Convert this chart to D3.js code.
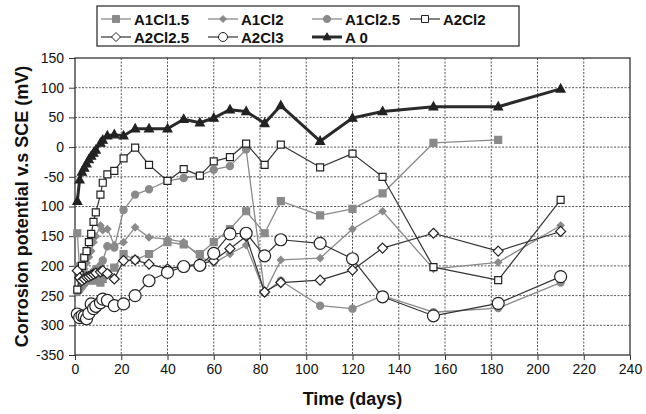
<!DOCTYPE html>
<html>
<head>
<meta charset="utf-8">
<script src="https://cdn.jsdelivr.net/npm/d3@7"></script>
<style>
  body { margin: 0; background: #fff; }
  text { font-family: "Liberation Sans", Arial, sans-serif; }
</style>
</head>
<body>
<div id="chart-container"></div>
<script>
// Sampling days (shared by all series)
const days = [1, 2, 3, 4, 5, 6, 7, 8, 9, 11, 12, 14, 17, 21, 26, 32, 40, 47, 54, 60, 67, 74, 82, 89, 106, 120, 133, 155, 183, 210];

// Corrosion potential (mV vs SCE)
const a1cl15 = [-145, -205, -225, -215, -225, -220, -215, -225, -220, -228, -222, -212, -203, -180, -190, -180, -160, -164, -180, -160, -138, -108, -145, -91, -115, -104, -78, 7, 12, null];
const a1cl2 = [-200, -215, -210, -205, -195, -185, -175, -160, -150, -132, -140, -138, -165, -160, -135, -152, -155, -160, -185, -195, -180, -165, -245, -190, -187, -138, -108, -205, -194, -132];
const a1cl25 = [-244, -240, -235, -230, -225, -220, -215, -210, -205, -200, -191, -167, -169, -106, -80, -71, -57, -52, -48, -38, -32, -4, -245, -225, -267, -272, -250, -278, -271, -228];
const a2cl2 = [-240, -215, -200, -186, -175, -160, -146, -126, -110, -80, -60, -46, -40, -19, -1, -30, -57, -37, -48, -24, -17, 6, -30, 4, -34, -11, -50, -202, -224, -89];
const a2cl25 = [-208, -220, -225, -222, -219, -218, -216, -214, -212, -210, -208, -213, -222, -191, -190, -197, -205, -200, -197, -191, -171, -150, -244, -228, -224, -207, -170, -145, -175, -142];
const a2cl3 = [-281, -287, -284, -285, -289, -280, -264, -272, -268, -262, -256, -258, -267, -264, -250, -225, -211, -201, -199, -179, -146, -145, -183, -156, -162, -188, -252, -284, -263, -218];
const a0 = [-91, -55, -42, -35, -28, -21, -15, -10, -5, 7, 12, 19, 21, 19, 31, 31, 31, 47, 41, 49, 63, 60, 40, 70, 10, 49, 60, 68, 68, 98];

const seriesNames = ["A1Cl1.5", "A1Cl2", "A1Cl2.5", "A2Cl2", "A2Cl2.5", "A2Cl3", "A 0"];
const seriesValues = [a1cl15, a1cl2, a1cl25, a2cl2, a2cl25, a2cl3, a0];

// Axis ticks (y labels as printed in the figure)
const xTicks = [0, 20, 40, 60, 80, 100, 120, 140, 160, 180, 200, 220, 240];
const yTicks = [150, 100, 50, 0, -50, -100, -150, -200, -250, -300, -350];
const yTickLabels = ["150", "100", "50", "0", "-50", "100", "150", "200", "250", "300", "-350"];

// marker / line style per series
const styles = {
  "A1Cl1.5": { shape: "square", size: 7, fill: "#8a8a8a", stroke: "#8a8a8a", line: "#8a8a8a", lw: 1.3 },
  "A1Cl2": { shape: "diamond", size: 5, fill: "#8a8a8a", stroke: "#8a8a8a", line: "#8a8a8a", lw: 1.3 },
  "A1Cl2.5": { shape: "circle", size: 3.6, fill: "#8a8a8a", stroke: "#8a8a8a", line: "#8a8a8a", lw: 1.3 },
  "A2Cl2": { shape: "square", size: 7, fill: "#fff", stroke: "#222", line: "#333", lw: 1.2 },
  "A2Cl2.5": { shape: "diamond", size: 8, fill: "#fff", stroke: "#222", line: "#333", lw: 1.2 },
  "A2Cl3": { shape: "circle", size: 6, fill: "#fff", stroke: "#222", line: "#333", lw: 1.2 },
  "A 0": { shape: "triangle", size: 8, fill: "#222", stroke: "#222", line: "#2a2a2a", lw: 3 },
};

const W = 646, H = 414;
const plot = { left: 75, right: 630, top: 58, bottom: 355 };

const svg = d3.select("#chart-container")
  .append("svg")
  .attr("width", W)
  .attr("height", H);

const x = d3.scaleLinear().domain([0, 240]).range([plot.left, plot.right]);
const y = d3.scaleLinear().domain([-350, 150]).range([plot.bottom, plot.top]);

// Grid lines (dotted)
svg.append("g")
  .selectAll("line")
  .data(xTicks.slice(1, -1))
  .enter()
  .append("line")
  .attr("x1", (d) => x(d)).attr("x2", (d) => x(d))
  .attr("y1", plot.top).attr("y2", plot.bottom)
  .attr("stroke", "#555").attr("stroke-width", 1).attr("stroke-dasharray", "2,1.5");

svg.append("g")
  .selectAll("line")
  .data(yTicks.slice(1, -1))
  .enter()
  .append("line")
  .attr("x1", plot.left).attr("x2", plot.right)
  .attr("y1", (d) => y(d)).attr("y2", (d) => y(d))
  .attr("stroke", "#555").attr("stroke-width", 1).attr("stroke-dasharray", "2,1.5");

// Plot frame
svg.append("rect")
  .attr("x", plot.left).attr("y", plot.top)
  .attr("width", plot.right - plot.left).attr("height", plot.bottom - plot.top)
  .attr("fill", "none").attr("stroke", "#333").attr("stroke-width", 1.3);

// Axes
const xAxis = svg.append("g")
  .attr("transform", `translate(0,${plot.bottom})`)
  .call(d3.axisBottom(x).tickValues(xTicks).tickSize(5).tickPadding(4));
const yAxis = svg.append("g")
  .attr("transform", `translate(${plot.left},0)`)
  .call(d3.axisLeft(y).tickValues(yTicks).tickSize(6).tickPadding(5)
    .tickFormat((d, i) => yTickLabels[i]));

[xAxis, yAxis].forEach((g) => {
  g.select(".domain").remove();
  g.selectAll(".tick line").attr("stroke", "#333");
  g.selectAll("text")
    .style("font-family", "'Liberation Sans', Arial, sans-serif")
    .style("font-size", "14px")
    .attr("fill", "#111");
});

// Axis titles
svg.append("text")
  .attr("x", (plot.left + plot.right) / 2)
  .attr("y", 405)
  .attr("text-anchor", "middle")
  .style("font-size", "18px")
  .style("font-weight", "bold")
  .attr("fill", "#111")
  .text("Time (days)");

svg.append("text")
  .attr("transform", `translate(28,${(plot.top + plot.bottom) / 2}) rotate(-90)`)
  .attr("text-anchor", "middle")
  .style("font-size", "18px")
  .style("font-weight", "bold")
  .attr("fill", "#111")
  .text("Corrosion potential v.s SCE (mV)");

// marker drawing helper
function marker(g, st) {
  const s = st.size;
  if (st.shape === "circle") {
    return g.append("circle").attr("r", s);
  }
  let path;
  if (st.shape === "square") {
    path = `M${-s / 2},${-s / 2}h${s}v${s}h${-s}Z`;
  } else if (st.shape === "diamond") {
    path = `M0,${-s / 2 - 1}L${s / 2 + 1},0L0,${s / 2 + 1}L${-s / 2 - 1},0Z`;
  } else {
    path = `M0,${-s * 0.6}L${s * 0.55},${s * 0.4}L${-s * 0.55},${s * 0.4}Z`;
  }
  return g.append("path").attr("d", path);
}

// Series
const line = d3.line()
  .defined((d) => d.v != null)
  .x((d) => x(d.day))
  .y((d) => y(d.v));

seriesNames.forEach((name, i) => {
  const st = styles[name];
  const data = days.map((day, j) => ({ day: day, v: seriesValues[i][j] }));
  const g = svg.append("g");
  g.append("path")
    .datum(data)
    .attr("d", line)
    .attr("fill", "none")
    .attr("stroke", st.line)
    .attr("stroke-width", st.lw)
    .attr("stroke-linejoin", "round");
  data.filter((d) => d.v != null).forEach((d) => {
    const m = g.append("g").attr("transform", `translate(${x(d.day)},${y(d.v)})`);
    marker(m, st).attr("fill", st.fill).attr("stroke", st.stroke).attr("stroke-width", 1.2);
  });
});

// Legend
const legendPos = [
  [101, 19], [208, 19], [312, 19], [410, 19],
  [101, 37], [208, 37], [312, 37],
];
const legend = svg.append("g");
legend.append("rect")
  .attr("x", 97).attr("y", 6).attr("width", 422).attr("height", 40)
  .attr("fill", "#fff").attr("stroke", "#333").attr("stroke-width", 1.3);

seriesNames.forEach((name, i) => {
  const st = styles[name];
  const [lx, ly] = legendPos[i];
  const g = legend.append("g").attr("transform", `translate(${lx},${ly})`);
  g.append("line")
    .attr("x1", 0).attr("x2", 30).attr("y1", 0).attr("y2", 0)
    .attr("stroke", st.line).attr("stroke-width", st.lw);
  const m = g.append("g").attr("transform", "translate(15,0)");
  const small = Object.assign({}, st, { size: st.shape === "circle" ? Math.min(st.size, 4.5) : Math.min(st.size, 7) });
  marker(m, small).attr("fill", st.fill).attr("stroke", st.stroke).attr("stroke-width", 1);
  g.append("text")
    .attr("x", 33).attr("y", 5.5)
    .style("font-size", "15px")
    .style("font-weight", "bold")
    .attr("fill", "#111")
    .text(name);
});
</script>
</body>
</html>
